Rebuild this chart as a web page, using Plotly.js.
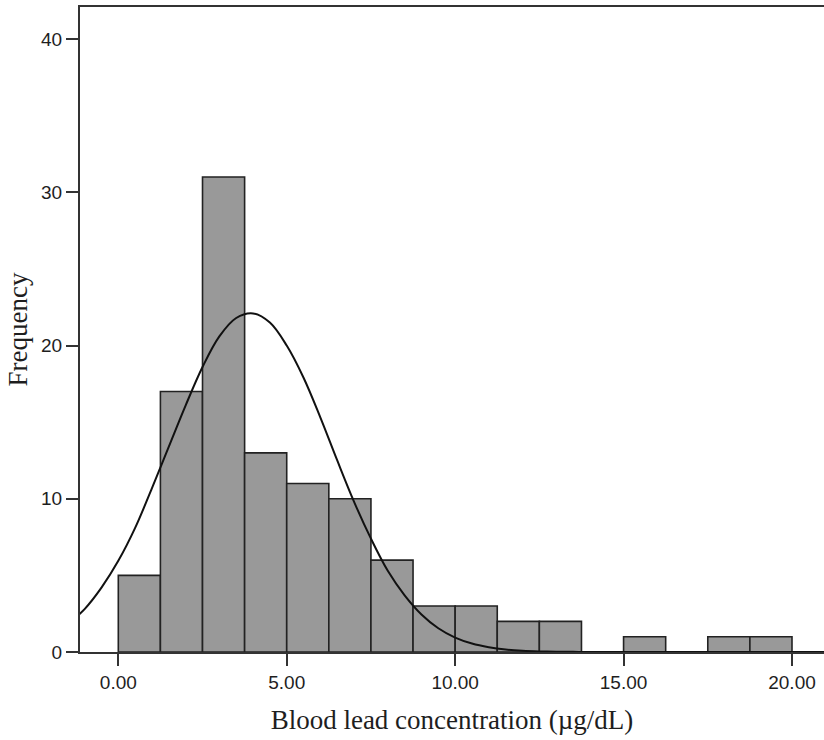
<!DOCTYPE html>
<html>
<head>
<meta charset="utf-8">
<script src="https://cdn.plot.ly/plotly-3.0.1.min.js"></script>
<style>
html,body{margin:0;padding:0;background:#fff;}
#chart{width:824px;height:740px;}
</style>
</head>
<body>
<div id="chart"></div>
<script>
// Histogram bins (width 1.25 µg/dL), centers and counts
var binCenters = [0.625, 1.875, 3.125, 4.375, 5.625, 6.875, 8.125, 9.375,
                  10.625, 11.875, 13.125, 14.375, 15.625, 16.875, 18.125, 19.375];
var binCounts  = [5, 17, 31, 13, 11, 10, 6, 3, 3, 2, 2, 0, 1, 0, 1, 1];
var binWidth = 1.25;

// Normal curve, points
var curveX = [-1.5, -1, -0.5, 0, 0.5, 1, 1.5, 2, 2.5, 3, 3.5, 4, 4.5, 5, 5.5, 6, 6.5,
              7, 7.5, 8, 8.5, 9, 9.5, 10, 10.5, 11, 11.5, 12, 12.5, 13, 13.5, 14,
              15, 16, 17, 18, 19, 20, 21];
var curveY = [1.8, 2.8, 4.2, 5.95, 8.1, 10.7, 13.4, 16.1, 18.6, 20.6, 21.8, 22.1, 21.5, 20.0, 17.9, 15.3, 12.5,
              9.8, 7.4, 5.3, 3.7, 2.45, 1.55, 0.94, 0.55, 0.31, 0.16, 0.08, 0.04, 0.02, 0.01, 0,
              0, 0, 0, 0, 0, 0, 0];

var xTicks = [0, 5, 10, 15, 20];
var xTickText = ['0.00', '5.00', '10.00', '15.00', '20.00'];
var yTicks = [0, 10, 20, 30, 40];

var bars = {
  type: 'bar',
  x: binCenters,
  y: binCounts,
  width: binWidth,
  marker: {color: '#999999', line: {color: '#222222', width: 1.6}},
  hoverinfo: 'x+y',
  showlegend: false
};

var curve = {
  type: 'scatter',
  mode: 'lines',
  x: curveX,
  y: curveY,
  line: {color: '#111111', width: 2, shape: 'spline', smoothing: 1},
  showlegend: false,
  hoverinfo: 'skip'
};

var layout = {
  width: 824,
  height: 740,
  margin: {l: 80, r: 0, t: 7, b: 88, pad: 0},
  paper_bgcolor: '#ffffff',
  plot_bgcolor: '#ffffff',
  showlegend: false,
  bargap: 0,
  xaxis: {
    range: [-1.137, 20.95],
    tickvals: xTicks,
    ticktext: xTickText,
    ticks: 'outside',
    ticklen: 12,
    tickwidth: 2,
    tickcolor: '#333333',
    showline: true,
    linecolor: '#333333',
    linewidth: 2,
    mirror: true,
    showgrid: false,
    zeroline: false,
    tickfont: {family: 'Liberation Sans, Arial, sans-serif', size: 19, color: '#1e1e1e'},
    title: {
      text: 'Blood lead concentration (µg/dL)',
      font: {family: 'Liberation Serif, Times New Roman, serif', size: 27, color: '#1e1e1e'},
      standoff: 18
    }
  },
  yaxis: {
    range: [0, 42.1],
    tickvals: yTicks,
    ticks: 'outside',
    ticklen: 12,
    tickwidth: 2,
    tickcolor: '#333333',
    showline: true,
    linecolor: '#333333',
    linewidth: 2,
    showgrid: false,
    zeroline: false,
    tickfont: {family: 'Liberation Sans, Arial, sans-serif', size: 19, color: '#1e1e1e'},
    title: {
      text: 'Frequency',
      font: {family: 'Liberation Serif, Times New Roman, serif', size: 27, color: '#1e1e1e'},
      standoff: 6
    }
  }
};

Plotly.newPlot('chart', [bars, curve], layout, {displayModeBar: false, staticPlot: true});
</script>
</body>
</html>
